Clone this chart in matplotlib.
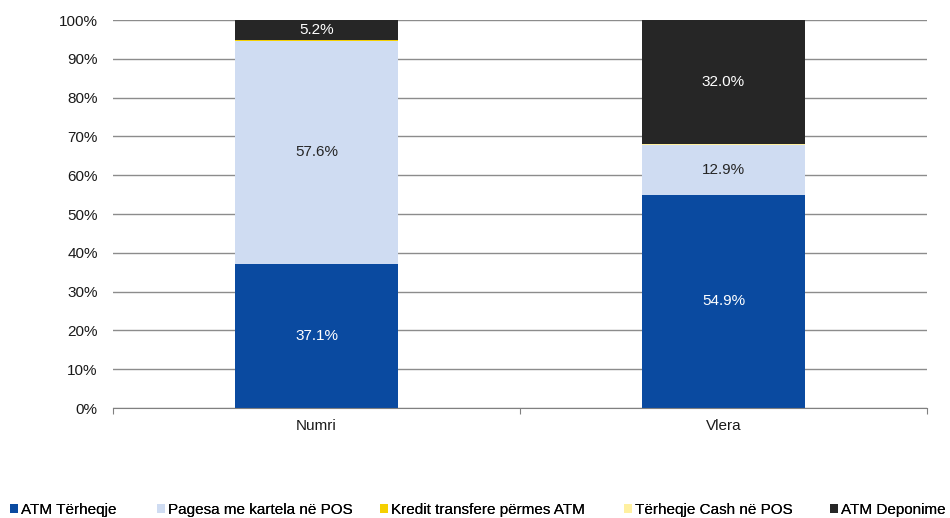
import numpy as np
import matplotlib.pyplot as plt
from matplotlib.ticker import FixedLocator, PercentFormatter

plt.rcParams['font.family'] = ['Liberation Sans', 'DejaVu Sans']

# data
categories = ['Numri', 'Vlera']
series = ['ATM Tërheqje', 'Pagesa me kartela në POS', 'Kredit transfere përmes ATM',
          'Tërheqje Cash në POS', 'ATM Deponime']
atm_terheqje = [37.1, 54.9]
pagesa_pos = [57.6, 12.9]
kredit_atm = [0.05, 0.1]
cash_pos = [0.05, 0.1]
atm_deponime = [5.2, 32.0]
values = [atm_terheqje, pagesa_pos, kredit_atm, cash_pos, atm_deponime]
colors = ['#0a4aa0', '#cfdcf2', '#f5d000', '#fff0a0', '#262626']
label_colors = ['white', '#262626', None, None, 'white']

fig = plt.figure(figsize=(9.5, 5.18), dpi=100)
ax = fig.add_axes([113/950, 1 - 408/518, (927-113)/950, (408-20)/518])

x = np.arange(len(categories))
bottom = np.zeros(len(categories))
handles = []
for name, vals, col, lc in zip(series, values, colors, label_colors):
    vals = np.array(vals)
    b = ax.bar(x, vals, 0.4, bottom=bottom, color=col, label=name, zorder=2)
    handles.append(b)
    if lc is not None:
        for xi, v, bt in zip(x, vals, bottom):
            ax.text(xi, bt + v / 2, f'{v:.1f}%', ha='center', va='center',
                    color=lc, fontsize=11, zorder=3)
    bottom += vals

ax.set_xlim(-0.5, 1.5)
ax.set_ylim(0, 100)
ax.yaxis.set_major_locator(FixedLocator(np.arange(0, 101, 10)))
ax.yaxis.set_major_formatter(PercentFormatter(decimals=0))
ax.grid(axis='y', color='#8c8c8c', linewidth=1, zorder=0)
ax.tick_params(axis='y', length=0, pad=11, labelsize=11, labelcolor='#1a1a1a')

ax.set_xticks([-0.5, 0.5, 1.5])
ax.set_xticklabels([])
ax.set_xticks(x, minor=True)
ax.set_xticklabels(categories, minor=True)
ax.tick_params(axis='x', which='major', length=4, color='#808080', direction='out')
ax.tick_params(axis='x', which='minor', length=0, pad=8, labelsize=11, labelcolor='#1a1a1a')

for s in ['top', 'right', 'left']:
    ax.spines[s].set_visible(False)
ax.spines['bottom'].set_color('#808080')
ax.spines['bottom'].set_zorder(4)

# legend: one entry per slot, placed like the original (last one runs off the edge)
legend_x = [10, 157, 380, 624, 830]
for h, lx in zip(handles, legend_x):
    lg = fig.legend(handles=[h], loc='center left', bbox_to_anchor=(lx/950, 1 - 510/518),
                    frameon=False, fontsize=11, handlelength=0.55, handleheight=0.55,
                    handletextpad=0.15, borderaxespad=0.0, borderpad=0.0)
    fig.add_artist(lg)

fig.savefig('out.png', dpi=100)
